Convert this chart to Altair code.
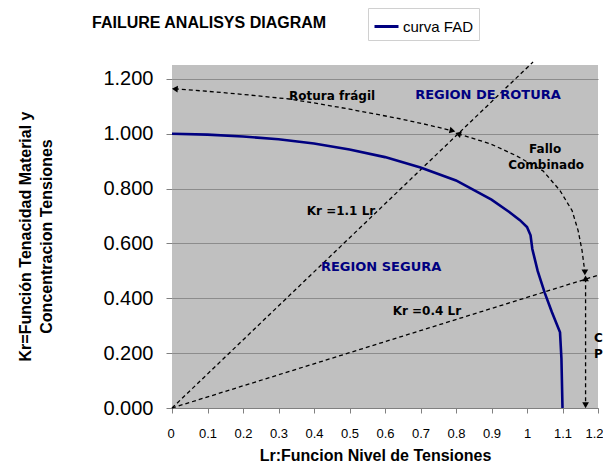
import altair as alt
import pandas as pd

# FAD curve (Lr, Kr)
fad_lr = [0, 0.1, 0.2, 0.3, 0.4, 0.5, 0.6, 0.7, 0.8, 0.9, 0.95, 0.98, 1.0, 1.01, 1.015, 1.03, 1.05, 1.07, 1.093, 1.097, 1.1]
fad_kr = [1.0, 0.997, 0.99, 0.98, 0.965, 0.943, 0.915, 0.877, 0.83, 0.76, 0.715, 0.685, 0.66, 0.63, 0.58, 0.5, 0.42, 0.35, 0.276, 0.18, 0.0]

# straight dashed reference lines
lineA_lr = [0, 1.017]
lineA_kr = [0, 1.262]
lineB_lr = [0, 1.2]
lineB_kr = [0, 0.484]

# curved dashed annotation paths
frag_lr = [0.008, 0.1, 0.19, 0.33, 0.417, 0.5, 0.642, 0.72, 0.79]
frag_kr = [1.164, 1.155, 1.145, 1.127, 1.109, 1.09, 1.055, 1.033, 1.011]
comb_lr = [0.806, 0.896, 0.97, 1.045, 1.093, 1.127, 1.144, 1.155, 1.163]
comb_kr = [1.0, 0.964, 0.92, 0.865, 0.793, 0.72, 0.647, 0.575, 0.495]
plast_lr = [1.165, 1.165]
plast_kr = [0.473, 0.01]

# arrow heads
arrow_lr = [0.008, 0.79, 0.806, 1.163, 1.165, 1.165]
arrow_kr = [1.164, 1.011, 1.0, 0.495, 0.473, 0.01]
arrow_shape = ["triangle-left", "triangle-right", "triangle-left", "triangle-down", "triangle-up", "triangle-down"]
arrow_angle = [4, 14, 17, 0, 0, 0]

# annotation labels
lab_text = ["Rotura frágil", "Fallo", "Combinado", "Kr =1.1 Lr", "Kr =0.4 Lr"]
lab_lr = [0.451, 1.051, 1.054, 0.476, 0.718]
lab_kr = [1.138, 0.945, 0.887, 0.72, 0.353]
reg_text = ["REGION DE ROTURA", "REGION SEGURA"]
reg_lr = [0.890, 0.589]
reg_kr = [1.142, 0.513]
side_text = ["C", "P"]
side_lr = [1.189, 1.189]
side_kr = [0.255, 0.198]

x_ticks = [0, 0.1, 0.2, 0.3, 0.4, 0.5, 0.6, 0.7, 0.8, 0.9, 1.0, 1.1, 1.2]
y_ticks = [0, 0.2, 0.4, 0.6, 0.8, 1.0, 1.2]

XS = alt.Scale(domain=[0, 1.2], nice=False, zero=False)
YS = alt.Scale(domain=[0, 1.251], nice=False, zero=False)

def X():
    return alt.X("Lr:Q", scale=XS, axis=alt.Axis(
        values=x_ticks, format="~g", title="Lr:Funcion Nivel de Tensiones",
        grid=False, domain=True, domainColor="#808080", tickColor="#808080",
        tickSize=5, labelFontSize=13, labelPadding=14, labelColor="black",
        labelFlush=True, labelFlushOffset=5, labelOverlap=False,
        labelFont="Liberation Sans", titleFont="Liberation Sans", titleFontSize=16,
        titleFontWeight="bold", titleColor="black", titleX=203, titleY=55,
        titleBaseline="bottom", titleAlign="center"))

def Y():
    return alt.Y("Kr:Q", scale=YS, axis=alt.Axis(
        values=y_ticks, format=".3f",
        title=["Kr=Función Tenacidad Material y", "Concentracion Tensiones"],
        grid=True, gridColor="#8c8c8c", gridWidth=1, domain=False,
        tickColor="#808080", tickSize=6, labelFontSize=20, labelPadding=13,
        labelFlush=False, labelOverlap=False,
        labelColor="black", labelFont="Liberation Sans", titleFont="Liberation Sans",
        titleFontSize=16, titleFontWeight="bold", titleColor="black",
        titleLineHeight=21, titleAngle=270, titleX=-139, titleY=171,
        titleBaseline="bottom", titleAlign="center"))

fad = pd.DataFrame({"Lr": fad_lr, "Kr": fad_kr, "serie": ["curva FAD"] * len(fad_lr), "o": list(range(len(fad_lr)))})

def seg(lr, kr, name):
    return pd.DataFrame({"Lr": lr, "Kr": kr, "g": [name] * len(lr), "o": list(range(len(lr)))})

dashed_df = pd.concat([
    seg(lineA_lr, lineA_kr, "A"), seg(lineB_lr, lineB_kr, "B"),
    seg(frag_lr, frag_kr, "F"), seg(comb_lr, comb_kr, "C"), seg(plast_lr, plast_kr, "P"),
])

dashed = alt.Chart(dashed_df).mark_line(color="black", strokeWidth=1.3, strokeDash=[4, 3], clip=False).encode(
    x=X(), y=Y(), detail="g:N", order="o:Q")

arrows = alt.Chart(pd.DataFrame({"Lr": arrow_lr, "Kr": arrow_kr, "shape": arrow_shape, "ang": arrow_angle})).mark_point(
    filled=True, color="black", size=45, opacity=1, clip=False).encode(
    x=X(), y=Y(), shape=alt.Shape("shape:N", scale=None), angle=alt.Angle("ang:Q", scale=None))

curve = alt.Chart(fad).mark_line(strokeWidth=2.6).encode(
    x=X(), y=Y(), order="o:Q",
    color=alt.Color("serie:N", scale=alt.Scale(domain=["curva FAD"], range=["#000080"]),
                    legend=alt.Legend(title=None, orient="none", legendX=196, legendY=-57,
                                      fillColor="white", strokeColor="#d0d0d0", padding=5,
                                      symbolType="stroke", symbolSize=576, symbolStrokeWidth=3,
                                      labelFontSize=15, labelFont="Liberation Sans",
                                      labelColor="black", symbolOffset=0, labelOffset=3)))

labels = alt.Chart(pd.DataFrame({"Lr": lab_lr, "Kr": lab_kr, "t": lab_text})).mark_text(
    font="DejaVu Sans", fontWeight="bold", fontSize=12, color="black").encode(x=X(), y=Y(), text="t:N")

regions = alt.Chart(pd.DataFrame({"Lr": reg_lr, "Kr": reg_kr, "t": reg_text})).mark_text(
    font="DejaVu Sans", fontWeight="bold", fontSize=13, color="#000080").encode(x=X(), y=Y(), text="t:N")

side = alt.Chart(pd.DataFrame({"Lr": side_lr, "Kr": side_kr, "t": side_text})).mark_text(
    font="DejaVu Sans", fontWeight="bold", fontSize=12, color="black", align="left", clip=False).encode(
    x=X(), y=Y(), text="t:N")

chart = alt.layer(dashed, curve, arrows, labels, regions, side).properties(
    width=426, height=343,
    title=alt.Title("FAILURE ANALISYS DIAGRAM", anchor="start", frame="group", dx=-80, dy=36,
                    fontSize=16, font="Liberation Sans", fontWeight="bold", color="black",
                    offset=0, baseline="alphabetic"),
    autosize=alt.AutoSizeParams(type="none"),
    padding={"left": 164, "top": 57, "right": 5, "bottom": 55},
).configure_view(fill="#c0c0c0", stroke=None)

chart.save("out.html", embed_options={"renderer": "svg", "actions": False})
